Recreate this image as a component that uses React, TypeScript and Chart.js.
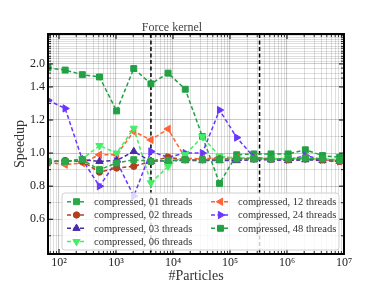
import React, { useEffect, useRef } from 'react';
import { Chart, registerables } from 'chart.js';

Chart.register(...registerables);

// ---------------- data ----------------
const particles = [64, 128, 256, 512, 1024, 2048, 4096, 8192, 16384, 32768, 65536, 131072, 262144, 524288, 1048576, 2097152, 4194304, 8388608];

const threads01 = [0.95, 0.95, 0.96, 0.9, 0.94, 0.96, 0.95, 0.955, 0.96, 0.96, 0.96, 0.965, 0.965, 0.965, 0.965, 0.97, 0.965, 0.955];
const threads02 = [0.945, 0.955, 0.95, 0.885, 0.91, 0.92, 0.95, 0.975, 0.96, 0.96, 0.965, 0.965, 0.965, 0.965, 0.96, 0.965, 0.96, 0.95];
const threads03 = [0.95, 0.95, 0.96, 0.95, 0.955, 1.01, 0.95, 0.955, 0.955, 0.955, 0.955, 0.955, 0.96, 0.96, 0.955, 0.96, 0.955, 0.95];
const threads06 = [0.95, 0.95, 0.965, 1.045, 1.0, 1.15, 0.82, 0.92, 0.99, 1.1, 0.98, 0.97, 0.97, 0.965, 0.97, 0.965, 0.965, 0.96];
const threads12 = [0.943, 0.93, 0.94, 0.99, 0.99, 1.13, 1.08, 1.146, 0.97, 0.965, 0.975, 0.97, 0.97, 0.965, 0.965, 0.97, 0.96, 0.95];
const threads24 = [1.32, 1.27, 0.96, 0.8, 0.95, 0.74, 1.01, 0.975, 1.0, 1.0, 1.26, 1.094, 0.975, 0.965, 0.96, 0.985, 0.96, 0.95];
const threads48 = [1.9, 1.84, 1.72, 1.66, 1.255, 1.88, 1.48, 1.76, 1.386, 1.1, 0.817, 0.99, 0.995, 0.995, 0.995, 1.02, 0.985, 0.974];

const seriesLabels = [
  'compressed, 01 threads',
  'compressed, 02 threads',
  'compressed, 03 threads',
  'compressed, 06 threads',
  'compressed, 12 threads',
  'compressed, 24 threads',
  'compressed, 48 threads',
];

const yMajorTicks = [0.6, 0.8, 1.0, 1.2, 1.4, 2.0];
const yTickLabels = ['0.6', '0.8', '1.0', '1.2', '1.4', '2.0'];
const yMinorTicks = [0.5, 0.7, 0.9, 1.1, 1.3];
// extra grid lines of the compressed upper region (axis units)
const yUpperGrid = [1.4536, 1.4837, 1.5139, 1.556, 1.573, 1.585, 1.604, 1.616, 1.634, 1.645, 1.663, 1.675, 1.688, 1.7, 1.71];

const xMajorTicks = [100, 1000, 10000, 100000, 1000000, 10000000];
const xTickLabels = ['10²', '10³', '10⁴', '10⁵', '10⁶', '10⁷'];
const xMantissas = [2, 3, 4, 5, 6, 7, 8, 9];
const cacheLines = [4096, 330000];

const titleText = 'Force kernel';
const xTitle = '#Particles';
const yTitle = 'Speedup';

// ---------------- styles ----------------
const SERIF = "'Liberation Serif', 'DejaVu Serif', serif";
const seriesStyles = [
  { color: '#2aa84a', point: 'rect', rot: 0, r: 4.2 },
  { color: '#b0411f', point: 'circle', rot: 0, r: 3.2 },
  { color: '#4a2aa6', point: 'triangle', rot: 0, r: 4.2 },
  { color: '#44ee66', point: 'triangle', rot: 180, r: 4.2 },
  { color: '#ff6436', point: 'triangle', rot: 270, r: 4.2 },
  { color: '#6a36ff', point: 'triangle', rot: 90, r: 4.2 },
  { color: '#22a044', point: 'rect', rot: 0, r: 4.2 },
];
const seriesValues = [threads01, threads02, threads03, threads06, threads12, threads24, threads48];
const DASH = [4, 2.5];

// piecewise axis mapping: linear up to 1.4, compressed above
function toAxis(s: number): number {
  return s <= 1.4 ? s : 1.4 + (s - 1.4) * 0.2317;
}

function drawMarker(ctx: CanvasRenderingContext2D, style: string, x: number, y: number, r: number, rot: number, color: string) {
  ctx.save();
  ctx.translate(x, y);
  ctx.rotate((rot * Math.PI) / 180);
  ctx.fillStyle = color;
  ctx.strokeStyle = color;
  ctx.lineWidth = 1;
  ctx.setLineDash([]);
  ctx.beginPath();
  if (style === 'rect') {
    const s = r * Math.SQRT1_2;
    ctx.rect(-s, -s, 2 * s, 2 * s);
  } else if (style === 'circle') {
    ctx.arc(0, 0, r, 0, Math.PI * 2);
  } else {
    ctx.moveTo(0, -r);
    ctx.lineTo(r * 0.866, r * 0.5);
    ctx.lineTo(-r * 0.866, r * 0.5);
    ctx.closePath();
  }
  ctx.fill();
  ctx.stroke();
  ctx.restore();
}

const decorPlugin = {
  id: 'decor',
  beforeDatasetsDraw(chart: any) {
    const { ctx, chartArea, scales } = chart;
    ctx.save();
    ctx.strokeStyle = '#000';
    ctx.lineWidth = 1.5;
    ctx.setLineDash([4, 2.5]);
    cacheLines.forEach((v) => {
      const x = scales.x.getPixelForValue(v);
      ctx.beginPath();
      ctx.moveTo(x, chartArea.top);
      ctx.lineTo(x, chartArea.bottom);
      ctx.stroke();
    });
    ctx.restore();
  },
  afterDraw(chart: any) {
    const { ctx, chartArea, scales } = chart;
    const { left, right, top, bottom } = chartArea;
    ctx.save();
    // tick marks (inward)
    ctx.strokeStyle = '#000';
    ctx.setLineDash([]);
    scales.y.ticks.forEach((t: any) => {
      const y = scales.y.getPixelForValue(t.value);
      const len = t.major ? 5 : 3;
      ctx.lineWidth = t.major ? 1 : 0.8;
      ctx.beginPath();
      ctx.moveTo(left, y); ctx.lineTo(left + len, y);
      ctx.moveTo(right, y); ctx.lineTo(right - len, y);
      ctx.stroke();
    });
    scales.x.ticks.forEach((t: any) => {
      const x = scales.x.getPixelForValue(t.value);
      const len = t.major ? 5 : 3;
      ctx.lineWidth = t.major ? 1 : 0.8;
      ctx.beginPath();
      ctx.moveTo(x, bottom); ctx.lineTo(x, bottom - len);
      ctx.moveTo(x, top); ctx.lineTo(x, top + len);
      ctx.stroke();
    });
    // frame
    ctx.lineWidth = 2;
    ctx.strokeRect(left, top, right - left, bottom - top);

    // x axis title
    ctx.fillStyle = '#333';
    ctx.font = `14px ${SERIF}`;
    ctx.textAlign = 'center';
    ctx.textBaseline = 'middle';
    ctx.fillText(xTitle, (left + right) / 2, bottom + 22);

    // legend
    const bx = left + 14;
    const by = top + 159;
    const bw = 277;
    const bh = 57;
    ctx.globalAlpha = 0.8;
    ctx.fillStyle = '#ffffff';
    ctx.beginPath();
    if ((ctx as any).roundRect) (ctx as any).roundRect(bx, by, bw, bh, 3);
    else ctx.rect(bx, by, bw, bh);
    ctx.fill();
    ctx.globalAlpha = 1;
    ctx.strokeStyle = '#d0d0d0';
    ctx.lineWidth = 1;
    ctx.stroke();

    ctx.font = `10.5px ${SERIF}`;
    ctx.textBaseline = 'middle';
    ctx.textAlign = 'left';
    seriesLabels.forEach((label, i) => {
      const col = i < 4 ? 0 : 1;
      const row = i < 4 ? i : i - 4;
      const hx = bx + (col === 0 ? 5 : 149);
      const tx = bx + (col === 0 ? 32 : 176);
      const ry = by + 8.7 + row * 13.3;
      const st = seriesStyles[i];
      ctx.strokeStyle = st.color;
      ctx.lineWidth = 1.5;
      ctx.setLineDash(DASH);
      ctx.beginPath();
      ctx.moveTo(hx, ry);
      ctx.lineTo(hx + 19, ry);
      ctx.stroke();
      drawMarker(ctx, st.point, hx + 9.5, ry, st.r, st.rot, st.color);
      ctx.fillStyle = '#333';
      ctx.fillText(label, tx, ry + 0.5);
    });
    ctx.restore();
  },
};

export default function App() {
  const ref = useRef<HTMLCanvasElement | null>(null);

  useEffect(() => {
    if (!ref.current) return;

    const datasets = seriesValues.map((vals, i) => {
      const st = seriesStyles[i];
      return {
        label: seriesLabels[i],
        data: particles.map((p, j) => ({ x: p, y: toAxis(vals[j]) })),
        borderColor: st.color,
        backgroundColor: st.color,
        borderWidth: 1.5,
        borderDash: DASH,
        pointStyle: st.point,
        pointRotation: st.rot,
        pointRadius: st.r,
        pointBackgroundColor: st.color,
        pointBorderColor: st.color,
        pointBorderWidth: 1,
        tension: 0,
        fill: false,
      };
    });

    const yTickObjs = [
      ...yMajorTicks.map((v, i) => ({ value: toAxis(v), major: true, lbl: yTickLabels[i] })),
      ...yMinorTicks.map((v) => ({ value: toAxis(v), major: false, lbl: '' })),
      ...yUpperGrid.map((v) => ({ value: v, major: false, lbl: '' })),
    ].sort((a, b) => a.value - b.value);

    const xTickObjs: any[] = [];
    xMajorTicks.forEach((v, i) => xTickObjs.push({ value: v, major: true, lbl: xTickLabels[i] }));
    [10, 100, 1000, 10000, 100000, 1000000].forEach((d) => {
      xMantissas.forEach((m) => {
        const v = m * d;
        if (v >= 64 && v <= 10000000) xTickObjs.push({ value: v, major: false, lbl: '' });
      });
    });
    xTickObjs.sort((a, b) => a.value - b.value);

    const gridColor = (c: any) => (c.tick && c.tick.major ? 'rgba(0,0,0,0.2)' : 'rgba(0,0,0,0.14)');
    const gridWidth = (c: any) => (c.tick && c.tick.major ? 1.1 : 0.9);

    const chart = new Chart(ref.current, {
      type: 'line',
      data: { datasets: datasets as any },
      plugins: [decorPlugin as any],
      options: {
        animation: false,
        responsive: false,
        layout: { padding: { top: 0, right: 38, left: 0, bottom: 0 } },
        plugins: {
          legend: { display: false },
          tooltip: { enabled: false },
          title: {
            display: true,
            text: titleText,
            color: '#444',
            font: { family: SERIF, size: 12, weight: 'normal' },
            padding: { top: 20.8, bottom: -1.2 },
          },
        },
        scales: {
          x: {
            type: 'logarithmic',
            min: 64,
            max: 10000000,
            afterBuildTicks: (scale: any) => { scale.ticks = xTickObjs.map((t) => ({ ...t })); },
            afterFit: (scale: any) => { scale.height = 33; },
            ticks: {
              autoSkip: false,
              maxRotation: 0,
              padding: 2,
              color: '#222',
              font: { family: SERIF, size: 12 },
              callback: (_v: any, i: number, ticks: any[]) => (ticks[i] as any).lbl,
            },
            grid: { color: gridColor, lineWidth: gridWidth, drawTicks: false },
            border: { display: false },
            title: { display: false },
          },
          y: {
            type: 'linear',
            min: 0.39,
            max: 1.72,
            afterBuildTicks: (scale: any) => { scale.ticks = yTickObjs.map((t) => ({ ...t })); },
            afterFit: (scale: any) => { scale.width = 48; },
            ticks: {
              autoSkip: false,
              padding: 3,
              color: '#222',
              font: { family: SERIF, size: 12 },
              callback: (_v: any, i: number, ticks: any[]) => (ticks[i] as any).lbl,
            },
            grid: { color: gridColor, lineWidth: gridWidth, drawTicks: false },
            border: { display: false },
            title: {
              display: true,
              text: yTitle,
              color: '#333',
              font: { family: SERIF, size: 14 },
              padding: { top: 11.6, bottom: 0 },
            },
          },
        },
      } as any,
    });

    return () => chart.destroy();
  }, []);

  return (
    <div style={{ position: 'fixed', left: 0, top: 0, width: 382, height: 287, background: '#fff' }}>
      <canvas ref={ref} width={382} height={287} style={{ display: 'block' }} />
    </div>
  );
}
